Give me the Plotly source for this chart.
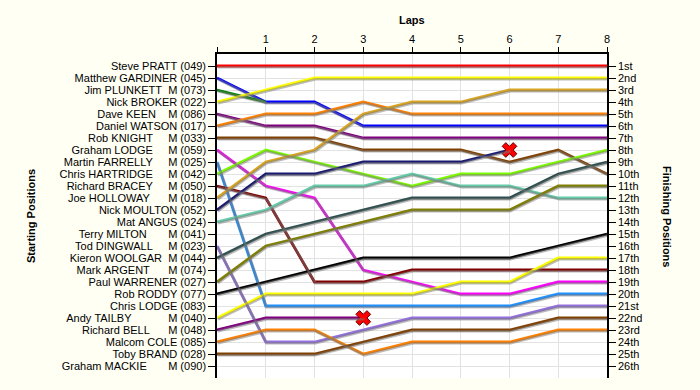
import plotly.graph_objects as go

laps = [0, 1, 2, 3, 4, 5, 6, 7, 8]
lap_labels = ["", "1", "2", "3", "4", "5", "6", "7", "8"]

start_labels = [
    "Steve PRATT (049)",
    "Matthew GARDINER (045)",
    "Jim PLUNKETT  M (073)",
    "Nick BROKER (022)",
    "Dave KEEN    M (086)",
    "Daniel WATSON (017)",
    "Rob KNIGHT     M (033)",
    "Graham LODGE     M (059)",
    "Martin FARRELLY     M (025)",
    "Chris HARTRIDGE     M (042)",
    "Richard BRACEY     M (050)",
    "Joe HOLLOWAY      M (018)",
    "Nick MOULTON (052)",
    "Mat ANGUS (024)",
    "Terry MILTON       M (041)",
    "Tod DINGWALL     M (023)",
    "Kieron WOOLGAR  M (044)",
    "Mark ARGENT      M (074)",
    "Paul WARRENER (027)",
    "Rob RODDY (077)",
    "Chris LODGE (083)",
    "Andy TAILBY            M (040)",
    "Richard BELL      M (048)",
    "Malcom COLE (085)",
    "Toby BRAND (028)",
    "Graham MACKIE       M (090)",
]
finish_labels = ["1st", "2nd", "3rd"] + [f"{i}th" for i in range(4, 21)] + \
    ["21st", "22nd", "23rd", "24th", "25th", "26th"]

# positions per lap (lap 0 = grid position)
pos_pratt = [1, 1, 1, 1, 1, 1, 1, 1, 1]
pos_gardiner = [2, 4, 4, 6, 6, 6, 6, 6, 6]
pos_plunkett = [3, 4]
pos_broker = [4, 3, 2, 2, 2, 2, 2, 2, 2]
pos_keen = [5, 6, 6, 7, 7, 7, 7, 7, 7]
pos_watson = [6, 5, 5, 4, 5, 5, 5, 5, 5]
pos_knight = [7, 7, 7, 8, 8, 8, 9, 8, 10]
pos_glodge = [8, 11, 12, 18, 19, 20, 20, 19, 19]
pos_farrelly = [9, 21, 21, 21, 21, 21, 21, 20, 20]
pos_hartridge = [10, 8, 9, 10, 11, 10, 10, 9, 8]
pos_bracey = [11, 12, 19, 19, 18, 18, 18, 18, 18]
pos_holloway = [12, 9, 8, 5, 4, 4, 3, 3, 3]
pos_moulton = [13, 10, 10, 9, 9, 9, 8]
pos_angus = [14, 13, 11, 11, 10, 11, 11, 12, 12]
pos_dingwall = [16, 24, 24, 23, 22, 22, 22, 21, 21]
pos_woolgar = [17, 15, 14, 13, 12, 12, 12, 10, 9]
pos_warrener = [19, 16, 15, 14, 13, 13, 13, 11, 11]
pos_roddy = [20, 19, 18, 17, 17, 17, 17, 16, 15]
pos_tailby = [22, 20, 20, 20, 20, 19, 19, 17, 17]
pos_bell = [23, 22, 22, 22]
pos_cole = [24, 23, 23, 25, 24, 24, 24, 23, 23]
pos_brand = [25, 25, 25, 24, 23, 23, 23, 22, 22]

series = [
    ("Steve PRATT", pos_pratt, "#FF0000", False),
    ("Matthew GARDINER", pos_gardiner, "#0000FF", False),
    ("Jim PLUNKETT", pos_plunkett, "#008000", False),
    ("Nick BROKER", pos_broker, "#FFFF00", False),
    ("Dave KEEN", pos_keen, "#800080", False),
    ("Daniel WATSON", pos_watson, "#FF8000", False),
    ("Rob KNIGHT", pos_knight, "#804000", False),
    ("Graham LODGE", pos_glodge, "#FF00FF", False),
    ("Martin FARRELLY", pos_farrelly, "#1E90FF", False),
    ("Chris HARTRIDGE", pos_hartridge, "#7CFC00", False),
    ("Richard BRACEY", pos_bracey, "#800000", False),
    ("Joe HOLLOWAY", pos_holloway, "#DAA520", False),
    ("Nick MOULTON", pos_moulton, "#191970", True),
    ("Mat ANGUS", pos_angus, "#66CDAA", False),
    ("Tod DINGWALL", pos_dingwall, "#9370DB", False),
    ("Kieron WOOLGAR", pos_woolgar, "#2F4F4F", False),
    ("Paul WARRENER", pos_warrener, "#808000", False),
    ("Rob RODDY", pos_roddy, "#000000", False),
    ("Andy TAILBY", pos_tailby, "#FFFF00", False),
    ("Richard BELL", pos_bell, "#800080", True),
    ("Malcom COLE", pos_cole, "#FF8000", False),
    ("Toby BRAND", pos_brand, "#804000", False),
]

FONT = "Liberation Sans, Arial, sans-serif"
X0, X1 = 217, 607
Y0, Y1 = 54, 378
W, H = 700, 390
npos = len(start_labels)
px_per_lap = (X1 - X0) / (laps[-1] - laps[0])
px_per_pos = (Y1 - Y0) / (npos + 1)
dx = 1.0 / px_per_lap
dy = 1.3 / px_per_pos

fig = go.Figure()

# shadows
for name, p, col, ret in series:
    fig.add_trace(go.Scatter(x=laps[:len(p)], y=p, mode="lines", xaxis="x3", yaxis="y3",
                             line=dict(color="rgba(120,120,120,0.5)", width=2.6),
                             hoverinfo="skip", showlegend=False))
# lines
for name, p, col, ret in series:
    fig.add_trace(go.Scatter(x=laps[:len(p)], y=p, mode="lines", name=name,
                             line=dict(color=col, width=2.8), showlegend=False))
# retirement markers
for name, p, col, ret in series:
    if ret:
        fig.add_trace(go.Scatter(x=[laps[len(p) - 1]], y=[p[-1]], mode="markers",
                                 marker=dict(symbol="x", size=13, color="#FF0000",
                                             line=dict(color="#600000", width=1)),
                                 showlegend=False))
# carrier for right axis
fig.add_trace(go.Scatter(x=[laps[0]], y=[1], yaxis="y2", mode="markers",
                         marker=dict(opacity=0), hoverinfo="skip", showlegend=False))

pos_vals = list(range(1, npos + 1))
grid = "#E2E2E2"
fig.update_layout(
    width=W, height=H,
    margin=dict(l=X0, r=W - X1, t=Y0, b=H - Y1, pad=0, autoexpand=False),
    paper_bgcolor="#FFFFF4", plot_bgcolor="#FFFFFF",
    font=dict(family=FONT, size=11, color="#000000"),
    xaxis=dict(side="top", range=[0, 8], tickvals=laps, ticktext=lap_labels,
               showgrid=True, gridcolor=grid, gridwidth=1, zeroline=False,
               showline=True, linecolor="#000000", linewidth=1.5, automargin=False,
               ticks="outside", ticklen=5, tickcolor="#000000"),
    yaxis=dict(range=[npos + 1, 0], tickvals=pos_vals,
               ticktext=[s.replace(" ", "\u00a0") for s in start_labels],
               showgrid=True, gridcolor=grid, gridwidth=1, zeroline=False,
               showline=True, linecolor="#000000", linewidth=1.5, automargin=False,
               ticks="outside", ticklen=7, tickcolor="#000000"),
    yaxis2=dict(overlaying="y", side="right", range=[npos + 1, 0], tickvals=pos_vals,
                ticktext=finish_labels, showgrid=False, zeroline=False,
                showline=True, linecolor="#000000", linewidth=1.5, automargin=False,
                ticks="outside", ticklen=7, tickcolor="#000000"),
    xaxis3=dict(overlaying="x", range=[0 - dx, 8 - dx], visible=False),
    yaxis3=dict(overlaying="y", range=[npos + 1 - dy, 0 - dy], visible=False),
    annotations=[
        dict(text="<b>Laps</b>", xref="paper", yref="paper", x=0.5, y=1,
             yshift=42, showarrow=False, font=dict(size=11)),
        dict(text="<b>Starting Positions</b>", xref="paper", yref="paper",
             x=0, xshift=-194, y=0.5, textangle=-90, showarrow=False, font=dict(size=11)),
        dict(text="<b>Finishing Positions</b>", xref="paper", yref="paper",
             x=1, xshift=68, y=0.5, textangle=90, showarrow=False, font=dict(size=11)),
    ],
)

fig.write_html("out.html", config={"displayModeBar": False},
               post_script="document.body.style.margin='0';document.body.style.overflow='hidden';")
